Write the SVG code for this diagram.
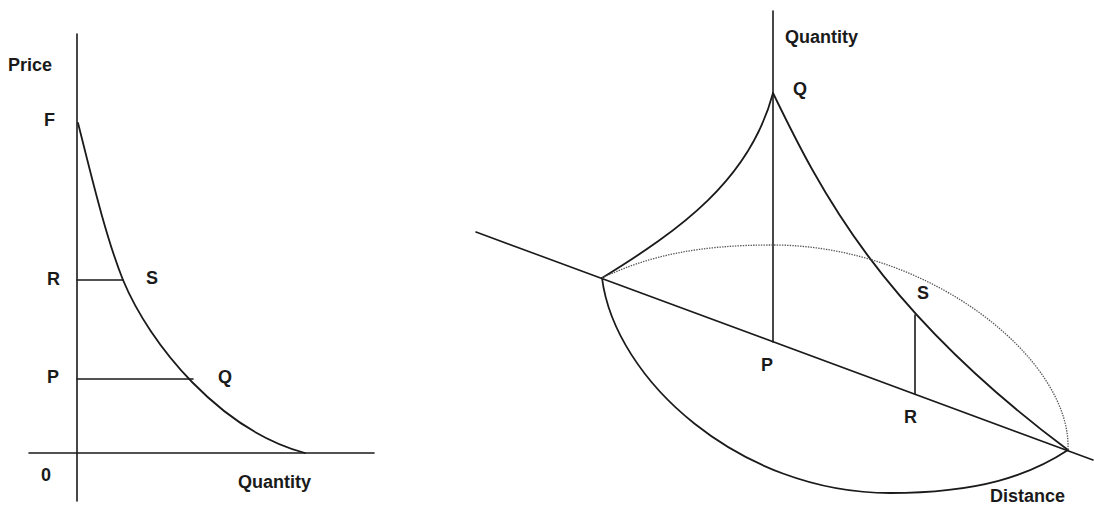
<svg xmlns="http://www.w3.org/2000/svg" width="1094" height="505" viewBox="0 0 1094 505">
<style>
.ln{fill:none;stroke:#1a1a1a;stroke-width:1.6;stroke-linecap:round;stroke-linejoin:round}
.cv{fill:none;stroke:#1a1a1a;stroke-width:1.8;stroke-linecap:round}
.dot{fill:none;stroke:#555;stroke-width:1.3;stroke-dasharray:1.4 1.2}
.lb{font-family:"Liberation Sans",Arial,sans-serif;font-weight:bold;font-size:18px;fill:#1a1a1a}
</style>
<rect width="1094" height="505" fill="#fff"/>
<g id="left-chart">
  <g id="left-axes">
    <line class="ln" x1="77" y1="34" x2="77" y2="501"/>
    <line class="ln" x1="29" y1="453" x2="374" y2="453"/>
  </g>
  <g id="left-curve">
    <path class="cv" d="M78,123 C90,170 105,235 123,280 C150,345 220,430 305,453"/>
  </g>
  <g id="left-levels">
    <line class="ln" x1="77" y1="280" x2="123" y2="280"/>
    <line class="ln" x1="77" y1="379" x2="193" y2="379"/>
  </g>
  <g id="left-labels">
    <text class="lb" x="8" y="71">Price</text>
    <text class="lb" x="44" y="126">F</text>
    <text class="lb" x="47" y="285">R</text>
    <text class="lb" x="146" y="284">S</text>
    <text class="lb" x="47" y="383">P</text>
    <text class="lb" x="218" y="383">Q</text>
    <text class="lb" x="41" y="481">0</text>
    <text class="lb" x="238" y="488">Quantity</text>
  </g>
</g>
<g id="right-chart">
  <g id="connectors">
    <line class="ln" x1="773" y1="11" x2="773" y2="342"/>
    <line class="ln" x1="476" y1="232" x2="1093" y2="460"/>
    <line class="ln" x1="915" y1="315" x2="915" y2="394"/>
  </g>
  <g id="cone">
    <path class="cv" d="M602,278 C680,230 750,180 773,93"/>
    <path class="cv" d="M773,93 C820,190 880,310 1068,450"/>
    <path class="cv" d="M602,278 C615,380 740,493 890,493 C980,493 1030,475 1068,450"/>
    <path class="dot" d="M602,278 C650,255 700,245 773,245 C930,245 1072,360 1068,450"/>
  </g>
  <g id="right-labels">
    <text class="lb" x="785" y="43">Quantity</text>
    <text class="lb" x="793" y="95">Q</text>
    <text class="lb" x="761" y="371">P</text>
    <text class="lb" x="917" y="299">S</text>
    <text class="lb" x="904" y="423">R</text>
    <text class="lb" x="990" y="502">Distance</text>
  </g>
</g>
</svg>
